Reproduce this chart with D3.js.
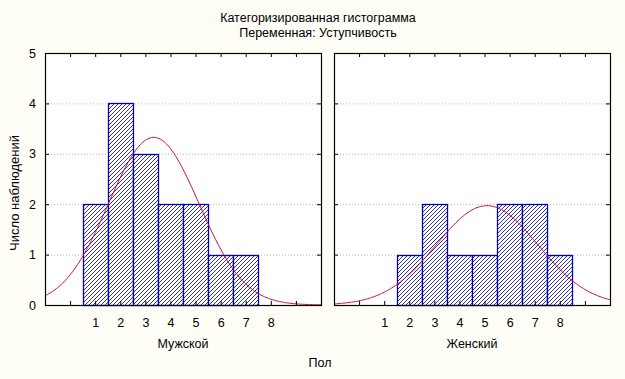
<!DOCTYPE html>
<html><head><meta charset="utf-8">
<script src="https://cdn.jsdelivr.net/npm/d3@7"></script>
<style>
body{margin:0;background:#fefef6;}
svg{display:block;}
text{font-family:"Liberation Sans Narrow","Arial Narrow","Liberation Sans",Arial,sans-serif;fill:#000;}
</style></head><body>
<svg id="c" width="625" height="379"></svg>
<script>
// ---- data ----
const titleLines = ["Категоризированная гистограмма", "Переменная: Уступчивость"];
const yTitle = "Число наблюдений";
const xTitle = "Пол";
const categories = ["Мужской", "Женский"];
const bins = [1, 2, 3, 4, 5, 6, 7, 8];
const maleCounts = [2, 4, 3, 2, 2, 1, 1, 0];
const femaleCounts = [0, 1, 2, 1, 1, 2, 2, 1];
const xTickLabels = [1, 2, 3, 4, 5, 6, 7, 8];
const yTickLabels = [0, 1, 2, 3, 4, 5];

const series = [maleCounts, femaleCounts];

const svg = d3.select("#c");
const W = 276, H = 252, top0 = 53;
const panelX = [45, 334];
const x = d3.scaleLinear().domain([-1, 10]).range([0, W]);
const y = d3.scaleLinear().domain([0, 5]).range([H, 0]);

const defs = svg.append("defs");
const pat = defs.append("pattern").attr("id", "hatch").attr("patternUnits", "userSpaceOnUse")
  .attr("width", 4).attr("height", 4);
pat.append("rect").attr("width", 4).attr("height", 4).attr("fill", "#fff");
pat.append("path").attr("d", "M-1,1 l2,-2 M0,4 l4,-4 M3,5 l2,-2")
  .attr("stroke", "#1a1aa8").attr("stroke-width", 0.9);

// titles
svg.selectAll("text.title").data(titleLines).join("text")
  .attr("x", 318).attr("y", (d, i) => 22 + i * 15)
  .attr("text-anchor", "middle").attr("font-size", 12.5).text(d => d);

svg.append("text").attr("transform", "translate(19,193) rotate(-90)")
  .attr("text-anchor", "middle").attr("font-size", 13).text(yTitle);
svg.append("text").attr("x", 320).attr("y", 367).attr("text-anchor", "middle")
  .attr("font-size", 12.5).text(xTitle);

categories.forEach((cat, pi) => {
  const counts = series[pi];
  const g = svg.append("g").attr("transform", `translate(${panelX[pi]},${top0})`);
  const clipId = "clip" + pi;
  defs.append("clipPath").attr("id", clipId).append("rect").attr("width", W).attr("height", H);

  g.append("rect").attr("width", W).attr("height", H).attr("fill", "#fff");

  // grid
  g.selectAll("line.grid").data([1, 2, 3, 4]).join("line")
    .attr("x1", 0).attr("x2", W).attr("y1", d => y(d) + 0.5).attr("y2", d => y(d) + 0.5)
    .attr("stroke", "#b4b4b4").attr("stroke-dasharray", "1,2");

  // bars
  const data = bins.map((b, i) => ({ b, v: counts[i] })).filter(d => d.v > 0);
  g.selectAll("rect.bar").data(data).join("rect")
    .attr("x", d => Math.round(x(d.b - 0.5)) + 0.5)
    .attr("y", d => Math.round(y(d.v)) + 0.5)
    .attr("width", d => Math.round(x(d.b + 0.5)) - Math.round(x(d.b - 0.5)))
    .attr("height", d => Math.round(y(0)) - Math.round(y(d.v)))
    .attr("fill", "url(#hatch)").attr("stroke", "#0000b8").attr("stroke-width", 1.3);

  // fitted normal curve from the counts
  const n = d3.sum(counts);
  const mean = d3.sum(bins, (b, i) => b * counts[i]) / n;
  const sd = Math.sqrt(d3.sum(bins, (b, i) => counts[i] * (b - mean) ** 2) / (n - 1));
  const xs = d3.range(-1, 10.001, 0.05);
  const line = d3.line().x(d => x(d)).y(d => y(n / (sd * Math.sqrt(2 * Math.PI)) * Math.exp(-0.5 * ((d - mean) / sd) ** 2)));
  g.append("path").attr("d", line(xs)).attr("fill", "none")
    .attr("stroke", "#c4103c").attr("stroke-width", 1).attr("clip-path", `url(#${clipId})`);

  // axes (inside ticks)
  const ticksX = d3.range(-1, 11);
  const fmt = d => xTickLabels.includes(d) ? d : "";
  const ax = g.append("g").attr("transform", `translate(0,${H})`)
    .call(d3.axisBottom(x).tickValues(ticksX).tickSizeInner(-4).tickSizeOuter(0).tickPadding(13).tickFormat(fmt));
  const at = g.append("g")
    .call(d3.axisTop(x).tickValues(ticksX).tickSizeInner(-4).tickSizeOuter(0).tickFormat(""));
  const al = g.append("g")
    .call(d3.axisLeft(y).tickValues(yTickLabels).tickSizeInner(-4).tickSizeOuter(0).tickPadding(9).tickFormat(pi === 0 ? d3.format("d") : () => ""));
  const ar = g.append("g").attr("transform", `translate(${W},0)`)
    .call(d3.axisRight(y).tickValues(yTickLabels).tickSizeInner(-4).tickSizeOuter(0).tickFormat(""));
  [ax, at, al, ar].forEach(a => {
    a.select(".domain").remove();
    a.selectAll("line").attr("stroke", "#000");
    a.selectAll("text").attr("font-size", 12.5).style("font-family", '"Liberation Sans Narrow","Liberation Sans",Arial,sans-serif');
  });

  g.append("rect").attr("x", 0.5).attr("y", 0.5).attr("width", W).attr("height", H)
    .attr("fill", "none").attr("stroke", "#000").attr("stroke-width", 1.2);

  g.append("text").attr("x", W / 2).attr("y", 295).attr("text-anchor", "middle")
    .attr("font-size", 12.5).text(cat);
});
</script></body></html>
